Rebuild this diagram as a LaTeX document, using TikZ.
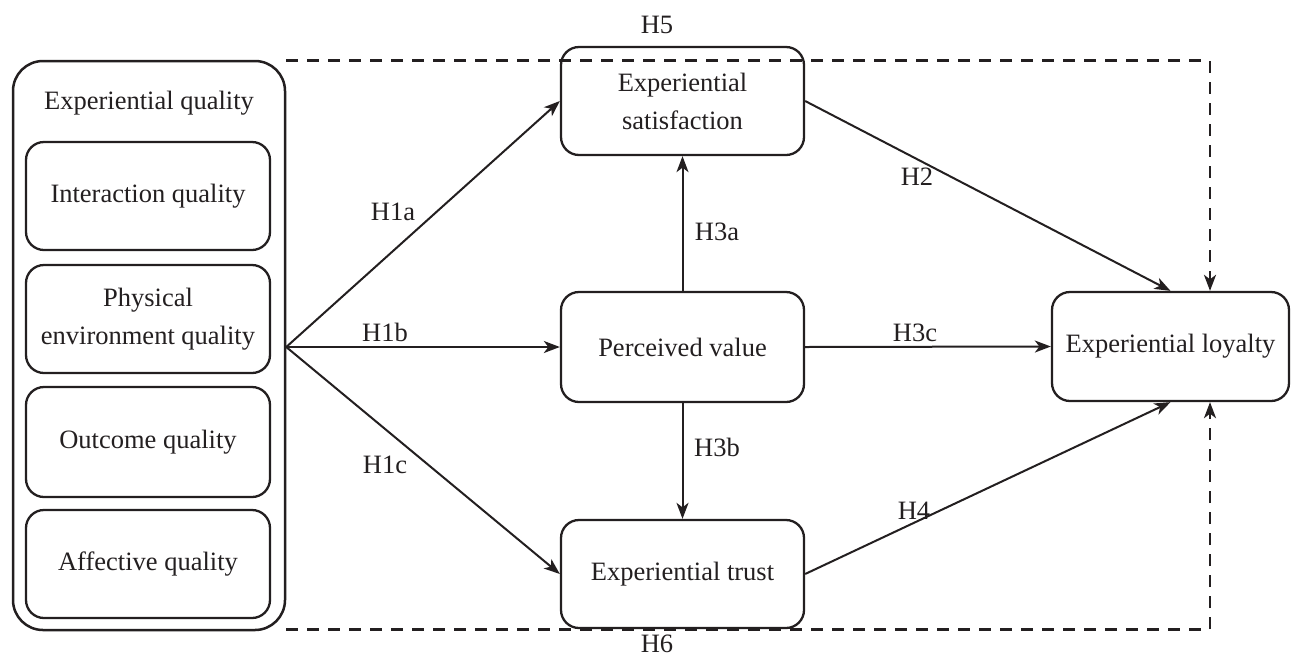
\documentclass[tikz,border=0pt]{standalone}
\usepackage{fontspec}
\setmainfont{Liberation Serif}
\usetikzlibrary{arrows.meta}
\definecolor{ink}{HTML}{231F20}
\begin{document}
\begin{tikzpicture}[x=1pt,y=-1pt,
  every node/.style={font=\fontsize{26.5}{38}\selectfont, text=ink},
  box/.style={draw=ink, line width=2.3pt, rounded corners=18pt, minimum width=243pt, minimum height=108pt, align=center, inner sep=0pt},
  inbox/.style={box, minimum width=244pt},
  outerbox/.style={draw=ink, line width=2.5pt, rounded corners=30pt, minimum width=272pt, minimum height=569pt, inner sep=0pt},
  arr/.style={draw=ink, line width=2pt, -{Stealth[length=16pt,width=12pt,inset=4.5pt]}},
  darr/.style={arr, line width=2.6pt, dash pattern=on 12pt off 9pt},
  lab/.style={inner sep=0pt}
]
\useasboundingbox (0,0) rectangle (1291,657);
% left group
\node[outerbox] (eq) at (149,345.5) {};
\node[lab] (eqt) at (149,103) {Experiential quality};
\node[inbox] (iq) at (148,196) {Interaction quality};
\node[inbox] (pq) at (148,319) {Physical\\environment quality};
\node[inbox, minimum height=110pt] (oq) at (148,442) {Outcome quality};
\node[inbox] (aq) at (148,564) {Affective quality};
% middle
\node[box] (sat) at (682.5,101) {Experiential\\satisfaction};
\node[box, minimum height=110pt] (pv) at (682.5,347) {Perceived value};
\node[box] (tr) at (682.5,574) {Experiential trust};
% right
\node[box, minimum width=237pt, minimum height=109pt] (loy) at (1170.5,346.5) {Experiential loyalty};
\coordinate (src) at (eq.east |- pv.west);
% arrows
\draw[arr] (src) -- (sat.west);
\draw[arr] (src) -- (pv.west);
\draw[arr] (src) -- (tr.west);
\draw[arr] (pv.north) -- (sat.south);
\draw[arr] (pv.south) -- (tr.north);
\draw[arr] (pv.east) -- (loy.west);
\draw[arr] (sat.east) -- (loy.north);
\draw[arr] (tr.east) -- (loy.south);
\draw[darr] ([yshift=-1pt]eq.north east) -| ([xshift=39.5pt]loy.north);
\draw[darr] ([yshift=2pt]eq.south east) -| ([xshift=39.5pt]loy.south);
% labels
\node[lab] (h1a) at (393,212) {H1a};
\node[lab] (h1b) at (385,332) {H1b};
\node[lab] (h1c) at (385,465) {H1c};
\node[lab] (h3a) at (717,232) {H3a};
\node[lab] (h3b) at (717,447) {H3b};
\node[lab] (h3c) at (915,333) {H3c};
\node[lab] (h2) at (917,177) {H2};
\node[lab] (h4) at (914,511) {H4};
\node[lab] (h5) at (657,25) {H5};
\node[lab] (h6) at (657,644) {H6};
\end{tikzpicture}
\end{document}
